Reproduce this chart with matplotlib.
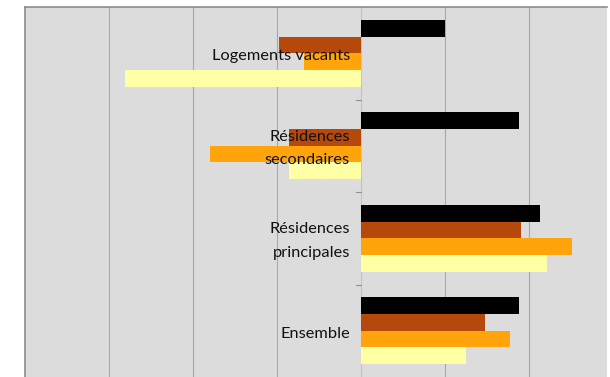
import matplotlib
matplotlib.use("Agg")
import matplotlib.pyplot as plt
import numpy as np

categories = ["Logements vacants", "Résidences\nsecondaires", "Résidences\nprincipales", "Ensemble"]
series_black = [1.00, 1.88, 2.13, 1.88]
series_brown = [-0.98, -0.86, 1.91, 1.48]
series_orange = [-0.68, -1.80, 2.51, 1.78]
series_yellow = [-2.81, -0.86, 2.21, 1.25]

series = [series_black, series_brown, series_orange, series_yellow]
colors = ["#000000", "#b5480a", "#ffa40a", "#ffffa6"]

fig = plt.figure(figsize=(6.10, 3.77), dpi=100)
ax = fig.add_axes([25/610, 0.0, (607-25)/610, (377-7)/377])
ax.set_facecolor("#dcdcdc")

y = np.arange(len(categories))
h = 0.18
offsets = [-1.5, -0.5, 0.5, 1.5]
for vals, col, off in zip(series, colors, offsets):
    ax.barh(y + off*h, vals, height=h, color=col, zorder=2, linewidth=0)

ax.set_xlim(-4.0, 2.93)
ax.set_ylim(3.5, -0.5)
for gx in [-3, -2, -1, 1, 2]:
    ax.axvline(gx, color="#a8a8a8", linewidth=0.8, zorder=1)
ax.axvline(0, color="#c4c4c4", linewidth=0.8, zorder=1)

# small ticks at category boundaries on zero axis
for b in [0.5, 1.5, 2.5]:
    ax.plot([-0.06, 0], [b, b], color="#909090", linewidth=0.8, zorder=1)

for yi, lab in zip(y, categories):
    ax.text(-0.13, yi + 0.03, lab, ha="right", va="center", fontsize=11.8,
            family="Lato", color="#111111", zorder=3, linespacing=1.85)

ax.set_xticks([])
ax.set_yticks([])
for s in ["left", "top"]:
    ax.spines[s].set_color("#8c8c8c")
    ax.spines[s].set_linewidth(1.2)
for s in ["right", "bottom"]:
    ax.spines[s].set_visible(False)

fig.savefig("out.png", dpi=100, facecolor="white")
